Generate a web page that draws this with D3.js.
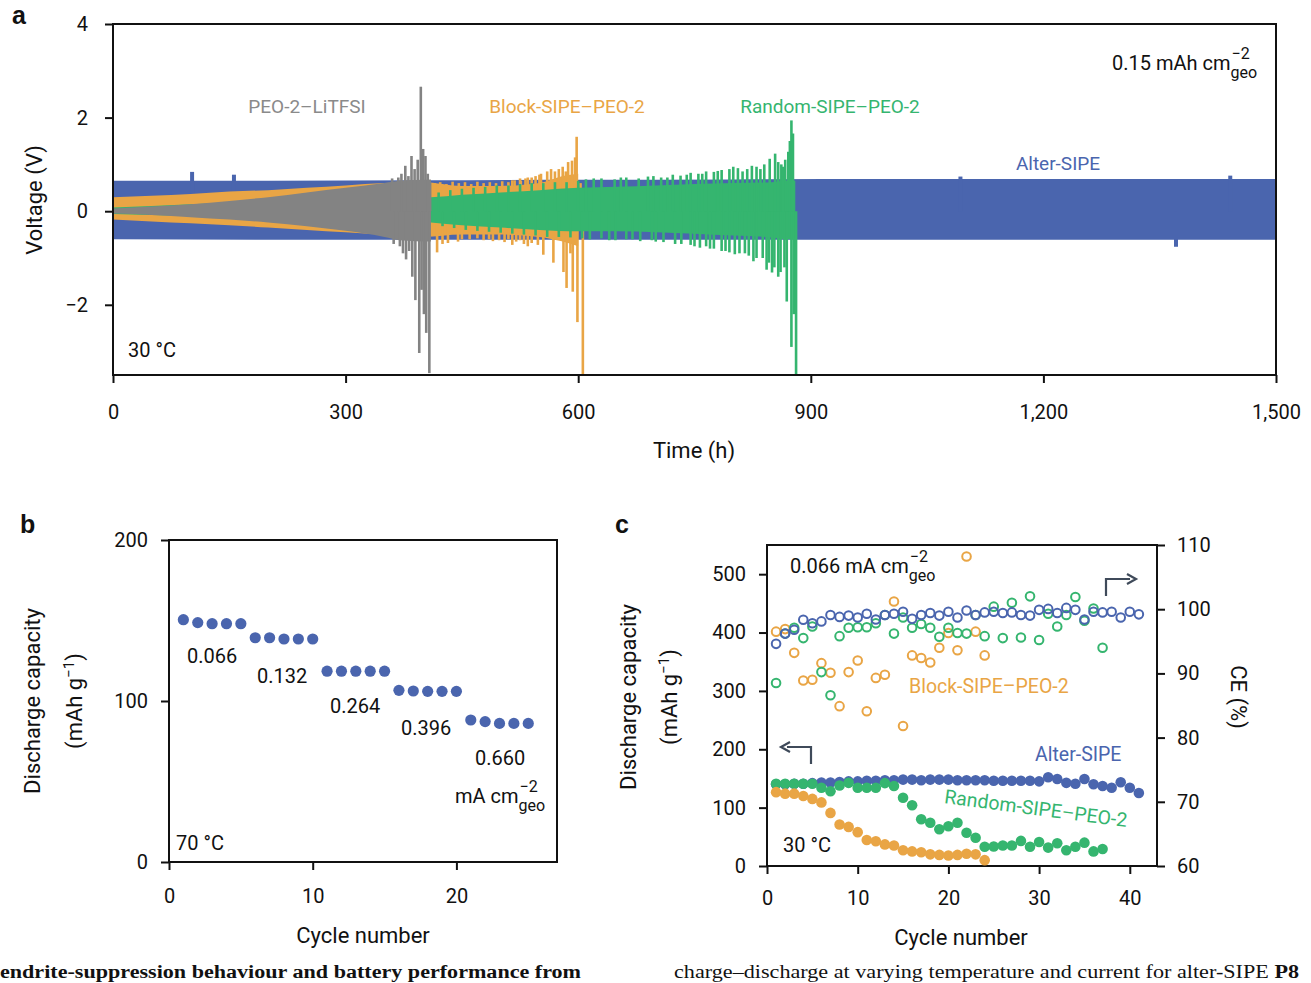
<!DOCTYPE html>
<html><head><meta charset="utf-8">
<script src="https://cdn.jsdelivr.net/npm/d3@7"></script>
<style>
body{margin:0;background:#fff;}
svg text{font-family:Roboto,"Noto Sans",sans-serif;fill:#111;}
</style></head><body>
<svg id="c" width="1311" height="983"></svg>
<script>
// ---------------- Panel a data (voltage envelopes & spikes) ----------------
const aXTicks = [0, 300, 600, 900, 1200, 1500];
const aYTicks = [-2, 0, 2, 4];
// Alter-SIPE
const alterT  = [0, 200, 400, 600, 800, 1000, 1200, 1400, 1500];
const alterUp = [0.65, 0.65, 0.66, 0.67, 0.68, 0.69, 0.69, 0.69, 0.69];
const alterLo = [-0.60, -0.61, -0.61, -0.61, -0.61, -0.61, -0.61, -0.61, -0.61];
const alterSpikeT = [102, 156, 1093, 1371, 1441];
const alterSpikeV = [0.84, 0.78, 0.74, -0.76, 0.76];
// Block-SIPE-PEO-2
const blockT  = [0, 50, 100, 150, 200, 250, 300, 350, 400, 450, 500, 550, 580, 600];
const blockUp = [0.30, 0.33, 0.37, 0.42, 0.45, 0.50, 0.55, 0.60, 0.62, 0.54, 0.54, 0.60, 0.75, 0.80];
const blockLo = [-0.18, -0.22, -0.26, -0.30, -0.35, -0.40, -0.45, -0.50, -0.55, -0.50, -0.50, -0.55, -0.65, -0.75];
const blockSpikeT = [418, 425, 432, 445, 460, 478, 490, 505, 515, 515, 525, 525, 535, 535, 545, 548, 552, 555, 560, 568, 575, 580, 581, 584, 585, 587, 590, 592, 593, 596, 598, 599, 603, 606];
const blockSpikeV = [-0.88, -0.70, -0.68, -0.65, -0.60, -0.62, -0.64, -0.66, -0.72, 0.66, 0.70, -0.62, 0.72, -0.75, 0.75, -0.72, 0.80, -0.93, 0.85, -1.10, 0.90, 0.95, -1.30, 0.85, -1.64, 1.05, -0.90, 1.08, -1.72, 1.15, 1.59, -2.37, 0.60, -3.50];
const blockSpike2T = [415, 422, 430, 438, 446, 454, 462, 470, 478, 486, 494, 502, 510, 518, 526, 532, 540, 550, 565, 570, 450, 470, 485, 498, 510, 520, 530, 540];
const blockSpike2V = [0.60, 0.62, 0.58, 0.63, 0.60, 0.62, 0.58, 0.63, 0.60, 0.62, 0.60, 0.64, 0.62, 0.66, 0.65, 0.70, 0.72, 0.78, 0.90, 0.85, -0.60, -0.58, -0.60, -0.62, -0.60, -0.65, -0.70, -0.68];
// Random-SIPE-PEO-2
const randT  = [0, 100, 200, 300, 400, 410, 450, 500, 550, 600, 650, 700, 750, 800, 850, 870, 880];
const randUp = [0.08, 0.15, 0.22, 0.28, 0.30, 0.30, 0.35, 0.40, 0.45, 0.50, 0.52, 0.55, 0.58, 0.60, 0.62, 0.65, 0.65];
const randLo = [-0.06, -0.10, -0.14, -0.18, -0.22, -0.24, -0.30, -0.35, -0.40, -0.43, -0.43, -0.45, -0.48, -0.52, -0.56, -0.60, -0.60];
const randSpikeT = [620, 640, 655, 670, 690, 700, 715, 725, 740, 750, 760, 770, 780, 790, 800, 802, 812, 815, 824, 826, 835, 838, 843, 847, 850, 854, 858, 862, 864, 866, 869, 871, 873, 875, 875, 877, 878, 881];
const randSpikeV = [0.70, -0.62, 0.72, -0.60, 0.74, -0.65, 0.72, -0.70, 0.78, -0.75, 0.80, -0.80, 0.86, -0.85, 0.95, -0.92, 0.85, -0.90, 0.97, -1.07, 0.90, -1.00, -1.25, 1.12, -1.31, 1.23, -1.40, 1.00, 0.95, -1.20, -1.93, 1.27, 1.50, 1.94, -2.90, 1.66, -2.20, -3.50];
const randSpike2T = [420, 435, 450, 465, 480, 495, 510, 525, 540, 555, 570, 585, 600, 610, 630, 647, 662, 678, 697, 707, 722, 732, 745, 755, 765, 775, 785, 795, 806, 818, 830, 840, 858, 867,
                     425, 440, 455, 470, 485, 500, 515, 530, 545, 560, 575, 590, 605, 615, 630, 648, 662, 680, 695, 710, 733, 745, 757, 765, 775, 785, 795, 808, 820, 830, 846, 853, 861];
const randSpike2V = [0.40, 0.45, 0.48, 0.50, 0.52, 0.55, 0.55, 0.58, 0.60, 0.60, 0.62, 0.62, 0.65, 0.68, 0.70, 0.68, 0.72, 0.70, 0.75, 0.72, 0.78, 0.76, 0.82, 0.80, 0.85, 0.84, 0.88, 0.90, 0.92, 0.90, 0.95, 1.00, 1.05, 1.10,
                     -0.32, -0.36, -0.40, -0.42, -0.44, -0.46, -0.48, -0.50, -0.52, -0.55, -0.55, -0.56, -0.58, -0.60, -0.58, -0.62, -0.60, -0.64, -0.62, -0.66, -0.70, -0.72, -0.78, -0.75, -0.80, -0.85, -0.88, -0.90, -0.95, -1.00, -1.10, -1.20, -1.30];
// PEO-2-LiTFSI
const peoT  = [0, 50, 100, 150, 200, 250, 300, 350, 370, 410];
const peoUp = [0.06, 0.10, 0.15, 0.22, 0.30, 0.40, 0.50, 0.60, 0.65, 0.68];
const peoLo = [-0.05, -0.08, -0.13, -0.18, -0.24, -0.32, -0.42, -0.55, -0.62, -0.65];
const peoSpikeT = [360, 362, 368, 370, 372, 374, 377, 378, 381, 382, 385, 386, 389, 390, 393, 395, 397, 398, 400, 401, 403, 404, 406, 408, 409];
const peoSpikeV = [0.70, -0.70, 0.72, -0.75, 0.80, -0.90, 0.97, -1.03, 0.75, -0.85, 1.18, -1.40, 0.90, -1.90, 1.10, -3.03, 2.66, -1.68, 1.33, -2.20, 1.18, -2.60, 0.80, -3.46, 0.60];

// ---------------- Panel b data ----------------
const bXTicks = [0, 10, 20];
const bYTicks = [0, 100, 200];
const bCycle = d3.range(1, 26);
const bCap = [150.5, 148.7, 148, 148, 148, 139.3, 139.3, 138.5, 138.5, 138.5, 118.5, 118.5, 118.5, 118.5, 118.5, 106.6, 106.2, 106, 106, 106, 88.2, 87.2, 86.1, 86.1, 86.1];
const bRates = ["0.066", "0.132", "0.264", "0.396", "0.660"];

// ---------------- Panel c data ----------------
const cXTicks = [0, 10, 20, 30, 40];
const cYTicks = [0, 100, 200, 300, 400, 500];
const cCETicks = [60, 70, 80, 90, 100, 110];
const alterCap = [140,140,141,141,142,143,143,144,145,145,146,146,147,147,148,148,147,148,148,148,147,147,147,147,146,146,146,146,146,145,152,149,142.5,141,149,140,137,134,143.5,134,125];
const alterCE = [94.6,96.2,96.8,98.35,97.8,98.1,99.1,98.8,99.0,98.7,99.3,98.4,99.1,99.3,99.6,98.5,99.1,99.4,99.0,99.6,98.7,99.8,99.1,99.5,99.6,99.4,99.5,99.1,99.0,99.9,100.05,99.4,100.2,99.9,98.4,99.6,99.5,99.6,98.7,99.6,99.2];
const randCap = [141,141,141,141,141,134,128,138,142.5,134,134,134,142,137,117,104,80,74,63,68,74,57,48.5,33,33.5,35,35,43,33,41,31.5,39,27,33,40,25,29];
const randCE = [88.5,96.2,97.1,95.5,97.3,90.2,86.6,95.8,97.1,97.2,97.2,97.8,99.1,96.2,98.7,97.1,97.7,97.1,95.7,97.1,96.3,96.2,99.1,95.8,100.4,95.5,101,95.6,102,95.2,99.3,97.3,99.1,101.9,98.2,100.1,94];
const blockCap = [126.5,124,124,120,115,109,91,71,67,58,44.5,42.5,37,35,27,25,23.5,20,19,18,19,21,20,10];
const blockCE = [96.5,96.9,93.2,88.9,89,91.6,90.1,84.9,90.2,92,84.1,89.3,89.8,101.2,81.8,92.8,92.4,91.7,94,96.3,93.6,108.2,96.5,92.8];

// ---------------- Style ----------------
const BLUE = "#4a65ae", ORANGE = "#e9a545", GREEN = "#35b56f", GRAY = "#838383", ARROW = "#3f4a5a";
const svg = d3.select("#c");
const defs = svg.append("defs");

function boxAxes(g, x, y) {
  const [x0, x1] = x.range(); const [y0, y1] = y.range();
  g.append("rect").attr("x", x0).attr("y", y1).attr("width", x1 - x0).attr("height", y0 - y1)
    .attr("fill", "none").attr("stroke", "#111").attr("stroke-width", 2);
}
function styleAxis(sel, fs) {
  sel.select(".domain").remove();
  sel.selectAll(".tick line").attr("stroke", "#111").attr("stroke-width", 2);
  sel.selectAll(".tick text").attr("font-size", fs).attr("fill", "#111");
}
function unitText(g, x, y, main, sup, sub, fs, sfs) {
  const t = g.append("text").attr("x", x).attr("y", y).attr("font-size", fs).text(main);
  const w = t.node().getComputedTextLength();
  g.append("text").attr("x", x + w + 1).attr("y", y - 11).attr("font-size", sfs).text(sup);
  g.append("text").attr("x", x + w).attr("y", y + 8).attr("font-size", sfs).text(sub);
}
function rotLabel(g, x, y, angle, fs, parts) {
  const t = g.append("text").attr("transform", `translate(${x},${y}) rotate(${angle})`)
    .attr("text-anchor", "middle").attr("font-size", fs);
  parts.forEach(p => {
    const ts = t.append("tspan").text(p.t);
    if (p.dy) ts.attr("dy", p.dy);
    if (p.fs) ts.attr("font-size", p.fs);
  });
  return t;
}

// ================= Panel a =================
const xA = d3.scaleLinear().domain([0, 1500]).range([113, 1276]);
const yA = d3.scaleLinear().domain([-3.5, 4]).range([375, 24]);
defs.append("clipPath").attr("id", "clipA").append("rect")
  .attr("x", 113).attr("y", 24).attr("width", 1163).attr("height", 351);
const gA = svg.append("g");
const gAd = gA.append("g").attr("clip-path", "url(#clipA)");

function band(T, U, L, color) {
  gAd.append("path").datum(d3.range(T.length))
    .attr("d", d3.area().x(i => xA(T[i])).y0(i => yA(L[i])).y1(i => yA(U[i])).curve(d3.curveMonotoneX))
    .attr("fill", color);
}
function spikes(T, V, color, w) {
  gAd.append("g").selectAll("line").data(d3.range(T.length)).join("line")
    .attr("x1", i => xA(T[i])).attr("x2", i => xA(T[i]))
    .attr("y1", yA(0)).attr("y2", i => yA(V[i]))
    .attr("stroke", color).attr("stroke-width", w).attr("stroke-linecap", "butt");
}
band(alterT, alterUp, alterLo, BLUE);
spikes(alterSpikeT, alterSpikeV, BLUE, 4);
band(blockT, blockUp, blockLo, ORANGE);
spikes(blockSpikeT, blockSpikeV, ORANGE, 2.6);
spikes(blockSpike2T, blockSpike2V, ORANGE, 2.6);
band(randT, randUp, randLo, GREEN);
spikes(randSpike2T, randSpike2V, GREEN, 2.6);
spikes(randSpikeT, randSpikeV, GREEN, 2.6);
band(peoT, peoUp, peoLo, GRAY);
spikes(peoSpikeT, peoSpikeV, GRAY, 2.6);

boxAxes(gA, xA, yA);
gA.append("g").attr("transform", "translate(0,375)")
  .call(d3.axisBottom(xA).tickValues(aXTicks).tickFormat(d3.format(",")).tickSize(8).tickPadding(22))
  .call(s => styleAxis(s, 20));
gA.append("g").attr("transform", "translate(113,0)")
  .call(d3.axisLeft(yA).tickValues(aYTicks).tickFormat(d => d < 0 ? "−" + Math.abs(d) : d).tickSize(8).tickPadding(17))
  .call(s => styleAxis(s, 20));
gA.append("text").attr("x", 694).attr("y", 458).attr("text-anchor", "middle").attr("font-size", 22).text("Time (h)");
rotLabel(gA, 42, 200, -90, 22, [{t: "Voltage (V)"}]);
gA.append("text").attr("x", 307).attr("y", 113).attr("text-anchor", "middle").attr("font-size", 19).style("fill", "#8a8a8a").text("PEO-2–LiTFSI");
gA.append("text").attr("x", 567).attr("y", 113).attr("text-anchor", "middle").attr("font-size", 19).style("fill", ORANGE).text("Block-SIPE–PEO-2");
gA.append("text").attr("x", 830).attr("y", 113).attr("text-anchor", "middle").attr("font-size", 19).style("fill", GREEN).text("Random-SIPE–PEO-2");
gA.append("text").attr("x", 1058).attr("y", 170).attr("text-anchor", "middle").attr("font-size", 19).style("fill", BLUE).text("Alter-SIPE");
unitText(gA, 1112, 70, "0.15 mAh cm", "−2", "geo", 20, 16);
gA.append("text").attr("x", 128).attr("y", 357).attr("font-size", 20).text("30 °C");
svg.append("text").attr("x", 12).attr("y", 24).attr("font-size", 25).attr("font-weight", "bold")
  .style("font-family", "'Liberation Sans',Arial,sans-serif").text("a");

// ================= Panel b =================
const xB = d3.scaleLinear().domain([0, 27]).range([169, 557]);
const yB = d3.scaleLinear().domain([0, 200]).range([862, 540]);
const gB = svg.append("g");
boxAxes(gB, xB, yB);
gB.append("g").attr("transform", "translate(0,862)")
  .call(d3.axisBottom(xB).tickValues(bXTicks).tickSize(8).tickPadding(19))
  .call(s => styleAxis(s, 20));
gB.append("g").attr("transform", "translate(169,0)")
  .call(d3.axisLeft(yB).tickValues(bYTicks).tickSize(8).tickPadding(13))
  .call(s => styleAxis(s, 20));
gB.selectAll("circle.pt").data(d3.range(bCycle.length)).join("circle").attr("class", "pt")
  .attr("cx", i => xB(bCycle[i])).attr("cy", i => yB(bCap[i])).attr("r", 5.6).attr("fill", BLUE);
const bRatePos = [[187, 663], [257, 683], [330, 713], [401, 735], [475, 765]];
bRates.forEach((r, i) => gB.append("text").attr("x", bRatePos[i][0]).attr("y", bRatePos[i][1]).attr("font-size", 20).text(r));
unitText(gB, 455, 803, "mA cm", "−2", "geo", 20, 16);
gB.append("text").attr("x", 176).attr("y", 850).attr("font-size", 20).text("70 °C");
gB.append("text").attr("x", 363).attr("y", 943).attr("text-anchor", "middle").attr("font-size", 22).text("Cycle number");
rotLabel(gB, 40, 701, -90, 22, [{t: "Discharge capacity"}]);
rotLabel(gB, 82, 701, -90, 22, [{t: "(mAh g"}, {t: "−1", dy: -8, fs: 15}, {t: ")", dy: 8}]);
svg.append("text").attr("x", 20).attr("y", 533).attr("font-size", 25).attr("font-weight", "bold")
  .style("font-family", "'Liberation Sans',Arial,sans-serif").text("b");

// ================= Panel c =================
const xC = d3.scaleLinear().domain([0, 43]).range([767, 1157]);
const yC = d3.scaleLinear().domain([0, 550]).range([866, 545]);
const yCE = d3.scaleLinear().domain([60, 110]).range([866, 545]);
const gC = svg.append("g");
boxAxes(gC, xC, yC);
gC.append("g").attr("transform", "translate(0,866)")
  .call(d3.axisBottom(xC).tickValues(cXTicks).tickSize(8).tickPadding(17))
  .call(s => styleAxis(s, 20));
gC.append("g").attr("transform", "translate(767,0)")
  .call(d3.axisLeft(yC).tickValues(cYTicks).tickSize(8).tickPadding(13))
  .call(s => styleAxis(s, 20));
gC.append("g").attr("transform", "translate(1157,0)")
  .call(d3.axisRight(yCE).tickValues(cCETicks).tickSize(8).tickPadding(12))
  .call(s => styleAxis(s, 20));

function openPts(vals, color) {
  gC.append("g").selectAll("circle").data(d3.range(vals.length)).join("circle")
    .attr("cx", i => xC(i + 1)).attr("cy", i => yCE(vals[i])).attr("r", 4.3)
    .attr("fill", "none").attr("stroke", color).attr("stroke-width", 2);
}
function fillPts(vals, color) {
  gC.append("g").selectAll("circle").data(d3.range(vals.length)).join("circle")
    .attr("cx", i => xC(i + 1)).attr("cy", i => yC(vals[i])).attr("r", 5.3).attr("fill", color);
}
openPts(blockCE, ORANGE);
openPts(randCE, GREEN);
openPts(alterCE, BLUE);
fillPts(alterCap, BLUE);
fillPts(randCap, GREEN);
fillPts(blockCap, ORANGE);

unitText(gC, 790, 573, "0.066 mA cm", "−2", "geo", 20, 16);
gC.append("text").attr("x", 909).attr("y", 693).attr("font-size", 19.5).style("fill", ORANGE).text("Block-SIPE–PEO-2");
gC.append("text").attr("x", 1035).attr("y", 761).attr("font-size", 19.5).style("fill", BLUE).text("Alter-SIPE");
gC.append("text").attr("transform", "translate(1035,815) rotate(7.5)").attr("text-anchor", "middle")
  .attr("font-size", 19.5).style("fill", GREEN).text("Random-SIPE–PEO-2");
gC.append("text").attr("x", 783).attr("y", 852).attr("font-size", 20).text("30 °C");
// arrows
gC.append("path").attr("d", "M1106,596 L1106,579 L1130,579").attr("fill", "none").attr("stroke", ARROW).attr("stroke-width", 2.2);
gC.append("path").attr("d", "M1127,574 L1136,579 L1127,584").attr("fill", "none").attr("stroke", ARROW).attr("stroke-width", 2.2);
gC.append("path").attr("d", "M811,764 L811,747 L787,747").attr("fill", "none").attr("stroke", ARROW).attr("stroke-width", 2.2);
gC.append("path").attr("d", "M790,742 L781,747 L790,752").attr("fill", "none").attr("stroke", ARROW).attr("stroke-width", 2.2);

gC.append("text").attr("x", 961).attr("y", 945).attr("text-anchor", "middle").attr("font-size", 22).text("Cycle number");
rotLabel(gC, 636, 697, -90, 22, [{t: "Discharge capacity"}]);
rotLabel(gC, 677, 697, -90, 22, [{t: "(mAh g"}, {t: "−1", dy: -8, fs: 15}, {t: ")", dy: 8}]);
rotLabel(gC, 1231, 697, 90, 22, [{t: "CE (%)"}]);
svg.append("text").attr("x", 615).attr("y", 533).attr("font-size", 25).attr("font-weight", "bold")
  .style("font-family", "'Liberation Sans',Arial,sans-serif").text("c");

// ================= Caption fragments =================
svg.append("text").attr("x", 0).attr("y", 978).attr("font-size", 18.5).attr("font-weight", "bold")
  .style("font-family", "'Liberation Serif',serif").attr("textLength", 581).attr("lengthAdjust", "spacingAndGlyphs")
  .text("endrite-suppression behaviour and battery performance from");
const cap2 = svg.append("text").attr("x", 674).attr("y", 978).attr("font-size", 18.5)
  .style("font-family", "'Liberation Serif',serif").attr("textLength", 625).attr("lengthAdjust", "spacingAndGlyphs");
cap2.append("tspan").text("charge–discharge at varying temperature and current for alter-SIPE ");
cap2.append("tspan").attr("font-weight", "bold").text("P8");
</script>
</body></html>
